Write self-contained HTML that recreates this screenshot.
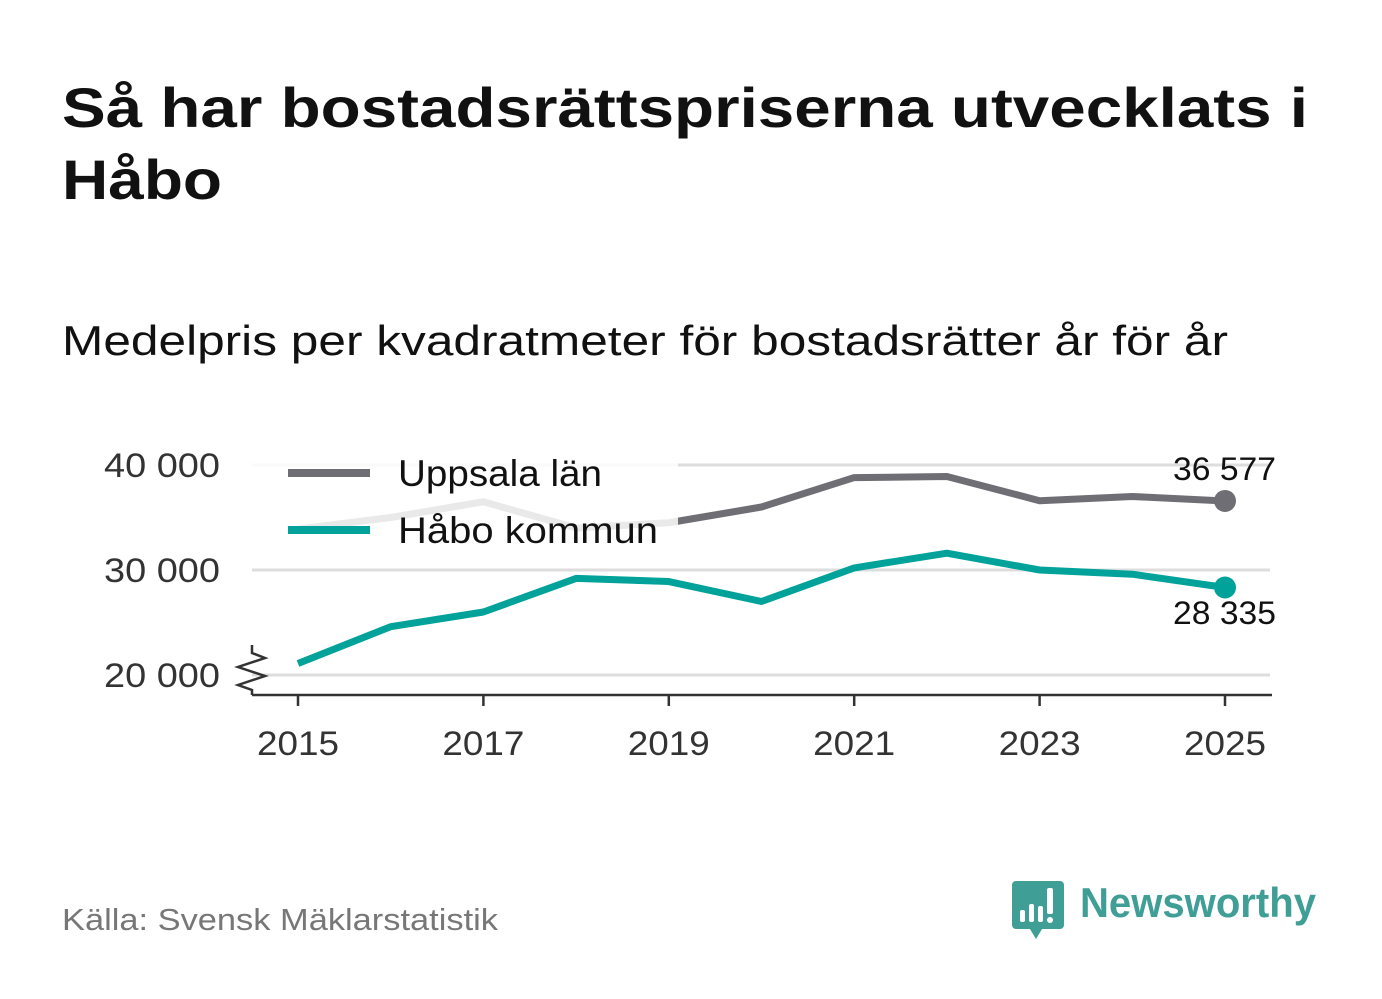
<!DOCTYPE html>
<html><head><meta charset="utf-8"><style>
body{margin:0;background:#fff;font-family:"Liberation Sans",sans-serif;}
svg{display:block}
</style></head><body>
<svg width="1382" height="999" viewBox="0 0 1382 999">
<text x="62" y="127" font-size="56" font-weight="bold" fill="#111" textLength="1246" lengthAdjust="spacingAndGlyphs">Så har bostadsrättspriserna utvecklats i</text>
<text x="62" y="199" font-size="56" font-weight="bold" fill="#111" textLength="160" lengthAdjust="spacingAndGlyphs">Håbo</text>
<text x="62" y="355" font-size="42" fill="#111" textLength="1166" lengthAdjust="spacingAndGlyphs">Medelpris per kvadratmeter för bostadsrätter år för år</text>
<g id="plot"></g>
<text x="62" y="930" font-size="31" fill="#777" textLength="436" lengthAdjust="spacingAndGlyphs">Källa: Svensk Mäklarstatistik</text>
<g>
<path d="M1016 881h44a4 4 0 0 1 4 4v40a4 4 0 0 1-4 4h-18l-6 10-6-10h-14a4 4 0 0 1-4-4v-40a4 4 0 0 1 4-4z" fill="#3f9e96"/>
<rect x="1020" y="910" width="5" height="12" rx="2" fill="#fff"/><rect x="1029" y="904" width="5" height="18" rx="2" fill="#fff"/><rect x="1038" y="906" width="5" height="16" rx="2" fill="#fff"/><rect x="1047" y="888" width="6" height="26" rx="2" fill="#fff"/><circle cx="1050" cy="920" r="3" fill="#fff"/>
<text x="1080" y="917" font-size="42" font-weight="bold" fill="#3f9e96" textLength="236" lengthAdjust="spacingAndGlyphs">Newsworthy</text>
</g>
</svg>
<script>
const years=[2015,2016,2017,2018,2019,2020,2021,2022,2023,2024,2025];
const uppsala=[33900,35000,36500,34000,34500,36000,38800,38900,36600,37000,36577];
const habo=[21100,24600,26000,29200,28900,27000,30200,31600,30000,29600,28335];
const yTicks=[20000,30000,40000];
const yTickLabels=["20 000","30 000","40 000"];
const xTicks=[2015,2017,2019,2021,2023,2025];
const NS="http://www.w3.org/2000/svg";
const g=document.getElementById('plot');
const X=v=>298+(v-2015)*92.7;
const Y=v=>675-(v-20000)*0.0105;
function mk(t,a,p){const e=document.createElementNS(NS,t);for(const k in a)e.setAttribute(k,a[k]);(p||g).appendChild(e);return e;}
yTicks.forEach((t,i)=>{
 const l=mk('line',{x1:252,x2:1270,y1:Y(t),y2:Y(t),stroke:'#ddd','stroke-width':3});
 
 
 const tx=mk('text',{x:104,y:Y(t)+12,'font-size':34,fill:'#333',textLength:116,lengthAdjust:'spacingAndGlyphs'});
 tx.textContent=yTickLabels[i];
 
 
});
const ax=mk('line',{x1:252,x2:1272,y1:695,y2:695,stroke:'#333','stroke-width':2.5});


mk('path',{d:'M252 695V690L238 685 265 676 238 667 265 658 252 653V645',fill:'none',stroke:'#333','stroke-width':2.5});
xTicks.forEach(t=>{
 mk('line',{x1:X(t),x2:X(t),y1:695,y2:706,stroke:'#333','stroke-width':2.5});
 const tx=mk('text',{x:X(t)-41,y:755,'font-size':34,fill:'#333',textLength:82,lengthAdjust:'spacingAndGlyphs'});
 tx.textContent=t;
 
 
});
function line(vals,col,name){
 const p=mk('polyline',{points:vals.map((v,i)=>X(years[i])+','+Y(v)).join(' '),fill:'none',stroke:col,'stroke-width':7,'stroke-linejoin':'round'});
 
 
 const c=mk('circle',{cx:X(years[years.length-1]),cy:Y(vals[vals.length-1]),r:11,fill:col});
 
 
}
line(uppsala,'#6f6e75','uppsala-line');
line(habo,'#00a29a','habo-line');
mk('rect',{x:250,y:462,width:428,height:86,fill:'#fff','fill-opacity':0.85});
const fmt=v=>Math.round(v).toString().replace(/\B(?=(\d{3})+(?!\d))/g,' ');
const l1=mk('text',{x:1173,y:480,'font-size':32,fill:'#111',textLength:103,lengthAdjust:'spacingAndGlyphs'});
l1.textContent=fmt(uppsala[10]);


const l2=mk('text',{x:1173,y:624,'font-size':32,fill:'#111',textLength:103,lengthAdjust:'spacingAndGlyphs'});
l2.textContent=fmt(habo[10]);


[['Uppsala län','#6f6e75',473,204],['Håbo kommun','#00a29a',530,260]].forEach(([n,c,y,w])=>{
 const gg=mk('g',{});
 
 
 mk('line',{x1:288,x2:370,y1:y,y2:y,stroke:c,'stroke-width':8},gg);
 const t=mk('text',{x:398,y:y+13,'font-size':37,fill:'#111',textLength:w,lengthAdjust:'spacingAndGlyphs'},gg);
 t.textContent=n;
});
</script>
</body></html>
